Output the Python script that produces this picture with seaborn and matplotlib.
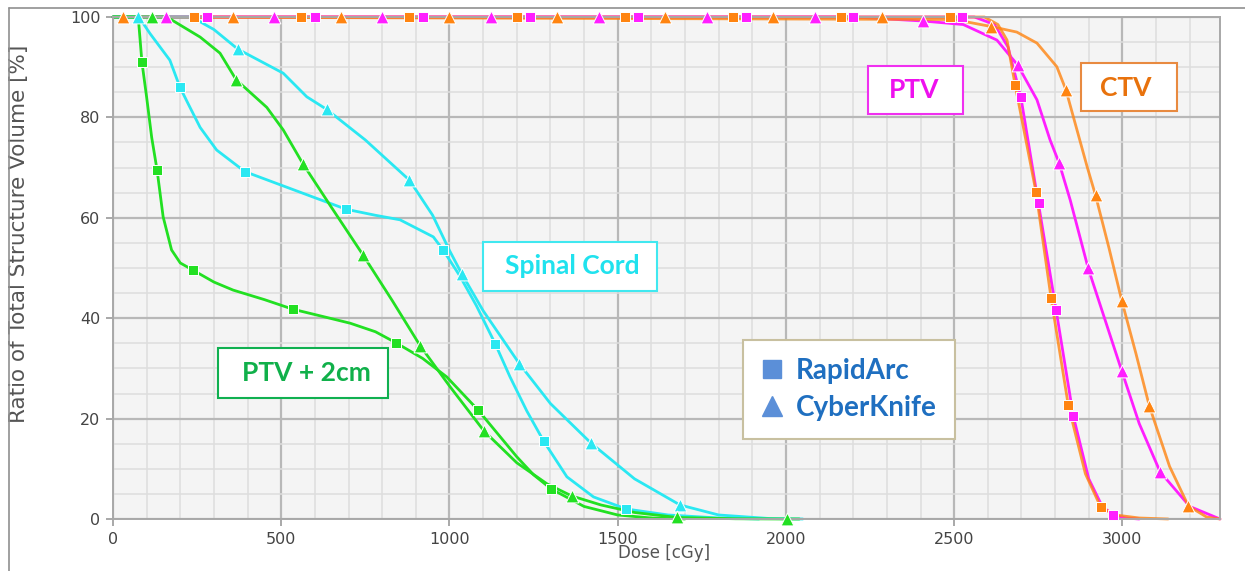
import matplotlib
matplotlib.use("Agg")
import matplotlib.pyplot as plt
import seaborn as sns
from matplotlib.lines import Line2D
from matplotlib.patches import Rectangle
from matplotlib.ticker import MultipleLocator

# ---- data (dose in cGy, volume in %) ----
# PTV + 2cm
ptv2_ra_dose = [0, 75, 86, 100, 115, 131, 149, 174, 200, 237, 300, 357, 450, 534, 620, 705, 780, 841, 920, 992,
                1085, 1200, 1250, 1302, 1400, 1500, 1600, 1700]
ptv2_ra_vol = [100, 100, 91, 84, 76, 69.5, 60.2, 53.6, 51, 49.6, 47.2, 45.6, 43.7, 41.8, 40.4, 39, 37.3, 35.1, 32, 28.3,
               21.7, 12.4, 8.8, 6.0, 2.5, 0.8, 0.2, 0]
ptv2_ra_mk_dose = [86, 131, 237, 534, 841, 1085, 1302]
ptv2_ra_mk_vol = [91, 69.5, 49.6, 41.8, 35.1, 21.7, 6.0]

ptv2_ck_dose = [0, 160, 259, 318, 366, 457, 506, 564, 650, 743, 830, 913, 1000, 1103, 1200, 1290, 1363, 1450, 1550,
                1677, 1850, 2003, 2040]
ptv2_ck_vol = [100, 100, 96, 92.8, 87.5, 82, 77.5, 70.8, 62, 52.6, 43.5, 34.5, 26.5, 17.5, 11.2, 7, 4.6, 2.8, 1.3,
               0.3, 0.05, 0, 0]
ptv2_ck_mk_dose = [115, 366, 564, 743, 913, 1103, 1363, 1677, 2003]
ptv2_ck_mk_vol = [100, 87.5, 70.8, 52.6, 34.5, 17.5, 4.6, 0.3, 0]

# Spinal Cord
cord_ra_dose = [0, 77, 110, 169, 199, 225, 259, 308, 392, 500, 600, 693, 780, 853, 952, 981, 1030, 1080, 1136, 1180,
                1230, 1280, 1349, 1428, 1525, 1650, 1800, 1920]
cord_ra_vol = [100, 100, 96.7, 91.4, 86, 82.5, 78, 73.5, 69.2, 66.5, 64, 61.7, 60.5, 59.6, 56.2, 53.6, 48.5, 42.5,
               34.9, 28.3, 21.5, 15.5, 8.4, 4.4, 2.0, 0.8, 0.2, 0]
cord_ra_mk_dose = [199, 392, 693, 981, 1136, 1280, 1525]
cord_ra_mk_vol = [86, 69.2, 61.7, 53.6, 34.9, 15.5, 2.0]

cord_ck_dose = [0, 234, 300, 371, 506, 576, 635, 750, 881, 950, 1000, 1036, 1100, 1208, 1300, 1421, 1550, 1685, 1800,
                1950, 2050]
cord_ck_vol = [100, 100, 97.5, 93.6, 88.8, 84.1, 81.6, 75.5, 67.5, 60.5, 53.5, 48.9, 41.5, 30.9, 23, 15.1, 8, 2.8,
               0.8, 0.1, 0]
cord_ck_mk_dose = [75, 371, 635, 881, 1036, 1208, 1421, 1685]
cord_ck_mk_vol = [100, 93.6, 81.6, 67.5, 48.9, 30.9, 15.1, 2.8]

# PTV
ptv_ra_dose = [0, 2560, 2620, 2660, 2698, 2750, 2803, 2854, 2900, 2940, 2973, 3010, 3050]
ptv_ra_vol = [100, 100, 98.5, 94, 84.1, 63, 41.6, 20.5, 8, 2.5, 0.8, 0.2, 0]
ptv_ra_mk_dose = [279, 599, 920, 1240, 1560, 1880, 2200, 2524, 2698, 2753, 2803, 2854, 2973]
ptv_ra_mk_vol = [100, 100, 100, 100, 100, 100, 100, 100, 84.1, 63, 41.6, 20.5, 0.8]

ptv_ck_dose = [0, 2200, 2408, 2527, 2627, 2689, 2746, 2785, 2812, 2845, 2898, 2998, 3050, 3112, 3200, 3290]
ptv_ck_vol = [100, 100, 99.2, 98.5, 95.4, 90.4, 83.5, 75.5, 70.9, 63.5, 50, 29.5, 19, 9.4, 2.5, 0]
ptv_ck_mk_dose = [157, 479, 800, 1122, 1443, 1765, 2086, 2408, 2689, 2812, 2898, 2998, 3112]
ptv_ck_mk_vol = [100, 100, 100, 100, 100, 100, 100, 99.2, 90.4, 70.9, 50, 29.5, 9.4]

# CTV
ctv_ra_dose = [0, 2590, 2630, 2657, 2681, 2743, 2788, 2839, 2890, 2936, 2980, 3050, 3136]
ctv_ra_vol = [100, 100, 98.5, 95.4, 86.5, 65.2, 44, 22.7, 9, 2.3, 0.8, 0.2, 0]
ctv_ra_mk_dose = [240, 559, 880, 1201, 1522, 1843, 2164, 2487, 2681, 2743, 2788, 2839, 2936]
ctv_ra_mk_vol = [100, 100, 100, 100, 100, 100, 100, 100, 86.5, 65.2, 44, 22.7, 2.3]

ctv_ck_dose = [0, 2500, 2610, 2686, 2746, 2805, 2832, 2895, 2920, 2960, 2998, 3040, 3080, 3140, 3196, 3250, 3290]
ctv_ck_vol = [100, 99.5, 98.1, 97, 94.8, 90.1, 85.5, 70.2, 64.5, 54, 43.5, 33, 22.5, 10.5, 2.6, 0.4, 0]
ctv_ck_mk_dose = [30, 357, 678, 999, 1320, 1642, 1963, 2285, 2610, 2832, 2920, 2998, 3080, 3196]
ctv_ck_mk_vol = [100, 100, 100, 100, 100, 100, 100, 100, 98.1, 85.5, 64.5, 43.5, 22.5, 2.6]

x_ticks = [0, 500, 1000, 1500, 2000, 2500, 3000]
y_ticks = [0, 20, 40, 60, 80, 100]

GREEN = '#22e022'
CYAN = '#2ae8f2'
MAGENTA = '#ff1eff'
ORANGE = '#ff8410'

sns.set_theme(style="whitegrid")
plt.rcParams['font.family'] = ['DejaVu Sans']

W, H = 1245, 571
fig = plt.figure(figsize=(W / 100, H / 100), dpi=100)
ax = fig.add_axes([113 / W, 1 - 519 / H, (1220 - 113) / W, (519 - 17) / H])
ax.set_facecolor('#f4f4f4')

series = [
    (ptv_ra_dose, ptv_ra_vol, ptv_ra_mk_dose, ptv_ra_mk_vol, MAGENTA, 's', 1.0),
    (ptv_ck_dose, ptv_ck_vol, ptv_ck_mk_dose, ptv_ck_mk_vol, MAGENTA, '^', 1.0),
    (ctv_ra_dose, ctv_ra_vol, ctv_ra_mk_dose, ctv_ra_mk_vol, ORANGE, 's', 0.8),
    (ctv_ck_dose, ctv_ck_vol, ctv_ck_mk_dose, ctv_ck_mk_vol, ORANGE, '^', 0.8),
    (cord_ra_dose, cord_ra_vol, cord_ra_mk_dose, cord_ra_mk_vol, CYAN, 's', 1.0),
    (cord_ck_dose, cord_ck_vol, cord_ck_mk_dose, cord_ck_mk_vol, CYAN, '^', 1.0),
    (ptv2_ra_dose, ptv2_ra_vol, ptv2_ra_mk_dose, ptv2_ra_mk_vol, GREEN, 's', 1.0),
    (ptv2_ck_dose, ptv2_ck_vol, ptv2_ck_mk_dose, ptv2_ck_mk_vol, GREEN, '^', 1.0),
]

for dose, vol, mk_d, mk_v, col, mk, a in series:
    sns.lineplot(x=dose, y=vol, sort=False, estimator=None, color=col, lw=2.0, alpha=a, ax=ax, clip_on=False)
    sns.scatterplot(x=mk_d, y=mk_v, marker=mk, color=col, s=45 if mk == 's' else 85,
                    edgecolor='white', linewidth=0.7, ax=ax, clip_on=False, zorder=3)

ax.set_xlim(0, 3290)
ax.set_ylim(0, 100)
ax.set_xticks(x_ticks)
ax.set_yticks(y_ticks)
ax.xaxis.set_minor_locator(MultipleLocator(100))
ax.yaxis.set_minor_locator(MultipleLocator(5))
ax.set_axisbelow(True)
ax.grid(which='major', color='#b8b8b8', lw=1.6)
ax.grid(which='minor', color='#dddddd', lw=1.1)
ax.tick_params(which='major', length=5, width=1.2, color='#999999', labelsize=11.5, labelcolor='#444444', pad=4,
               left=True, bottom=True)
ax.tick_params(which='minor', length=0)
for sp in ax.spines.values():
    sp.set_color('#a8a8a8')
    sp.set_linewidth(1.4)

ax.set_xlabel('Dose [cGy]', fontsize=12, color='#555555')
ax.set_ylabel('Ratio of Total Structure Volume [%]', fontsize=15.5, color='#555555')
ax.xaxis.set_label_coords(0.498, -0.050)
ax.yaxis.set_label_coords(-0.076, 0.568)

# outer panel frame
fig.add_artist(Line2D([9 / W, 1], [1 - 8 / H, 1 - 8 / H], transform=fig.transFigure, color='#909090', lw=1.2))
fig.add_artist(Line2D([9 / W, 9 / W], [0, 1 - 8 / H], transform=fig.transFigure, color='#909090', lw=1.2))


def label_box(x0, y0, x1, y1, tx, ty, text, color, edge):
    fig.add_artist(Rectangle((x0 / W, 1 - y1 / H), (x1 - x0) / W, (y1 - y0) / H, transform=fig.transFigure,
                             facecolor='white', edgecolor=edge, lw=1.5))
    fig.text(tx / W, 1 - ty / H, text, color=color, ha='center', va='center', fontsize=19,
             fontweight='bold', family='Lato')


label_box(868, 66, 963, 114, 914, 90, 'PTV', '#ee10ee', '#f030f0')
label_box(1081, 63, 1177, 111, 1126, 88, 'CTV', '#e8720c', '#e88a40')
label_box(483, 242, 657, 291, 572, 266, 'Spinal Cord', '#20e2ee', '#40e8f0')
label_box(218, 348, 388, 398, 306, 373, 'PTV + 2cm', '#10b04a', '#10b050')

handles = [Line2D([], [], marker='s', ls='none', color='#5b8fd8', markersize=13),
           Line2D([], [], marker='^', ls='none', color='#5b8fd8', markersize=15)]
leg = ax.legend(handles, ['RapidArc', 'CyberKnife'], loc='upper left',
                bbox_to_anchor=(743 / W, 1 - 340 / H), bbox_transform=fig.transFigure, borderaxespad=0,
                prop={'family': 'Lato', 'weight': 'bold', 'size': 20}, labelcolor='#1f6fc0',
                frameon=True, fancybox=False, edgecolor='#c8c0a0', framealpha=1,
                handlelength=0.8, handletextpad=0.45, borderpad=0.65, labelspacing=0.4)
leg.get_frame().set_linewidth(1.5)

fig.savefig('out.png', dpi=100)
